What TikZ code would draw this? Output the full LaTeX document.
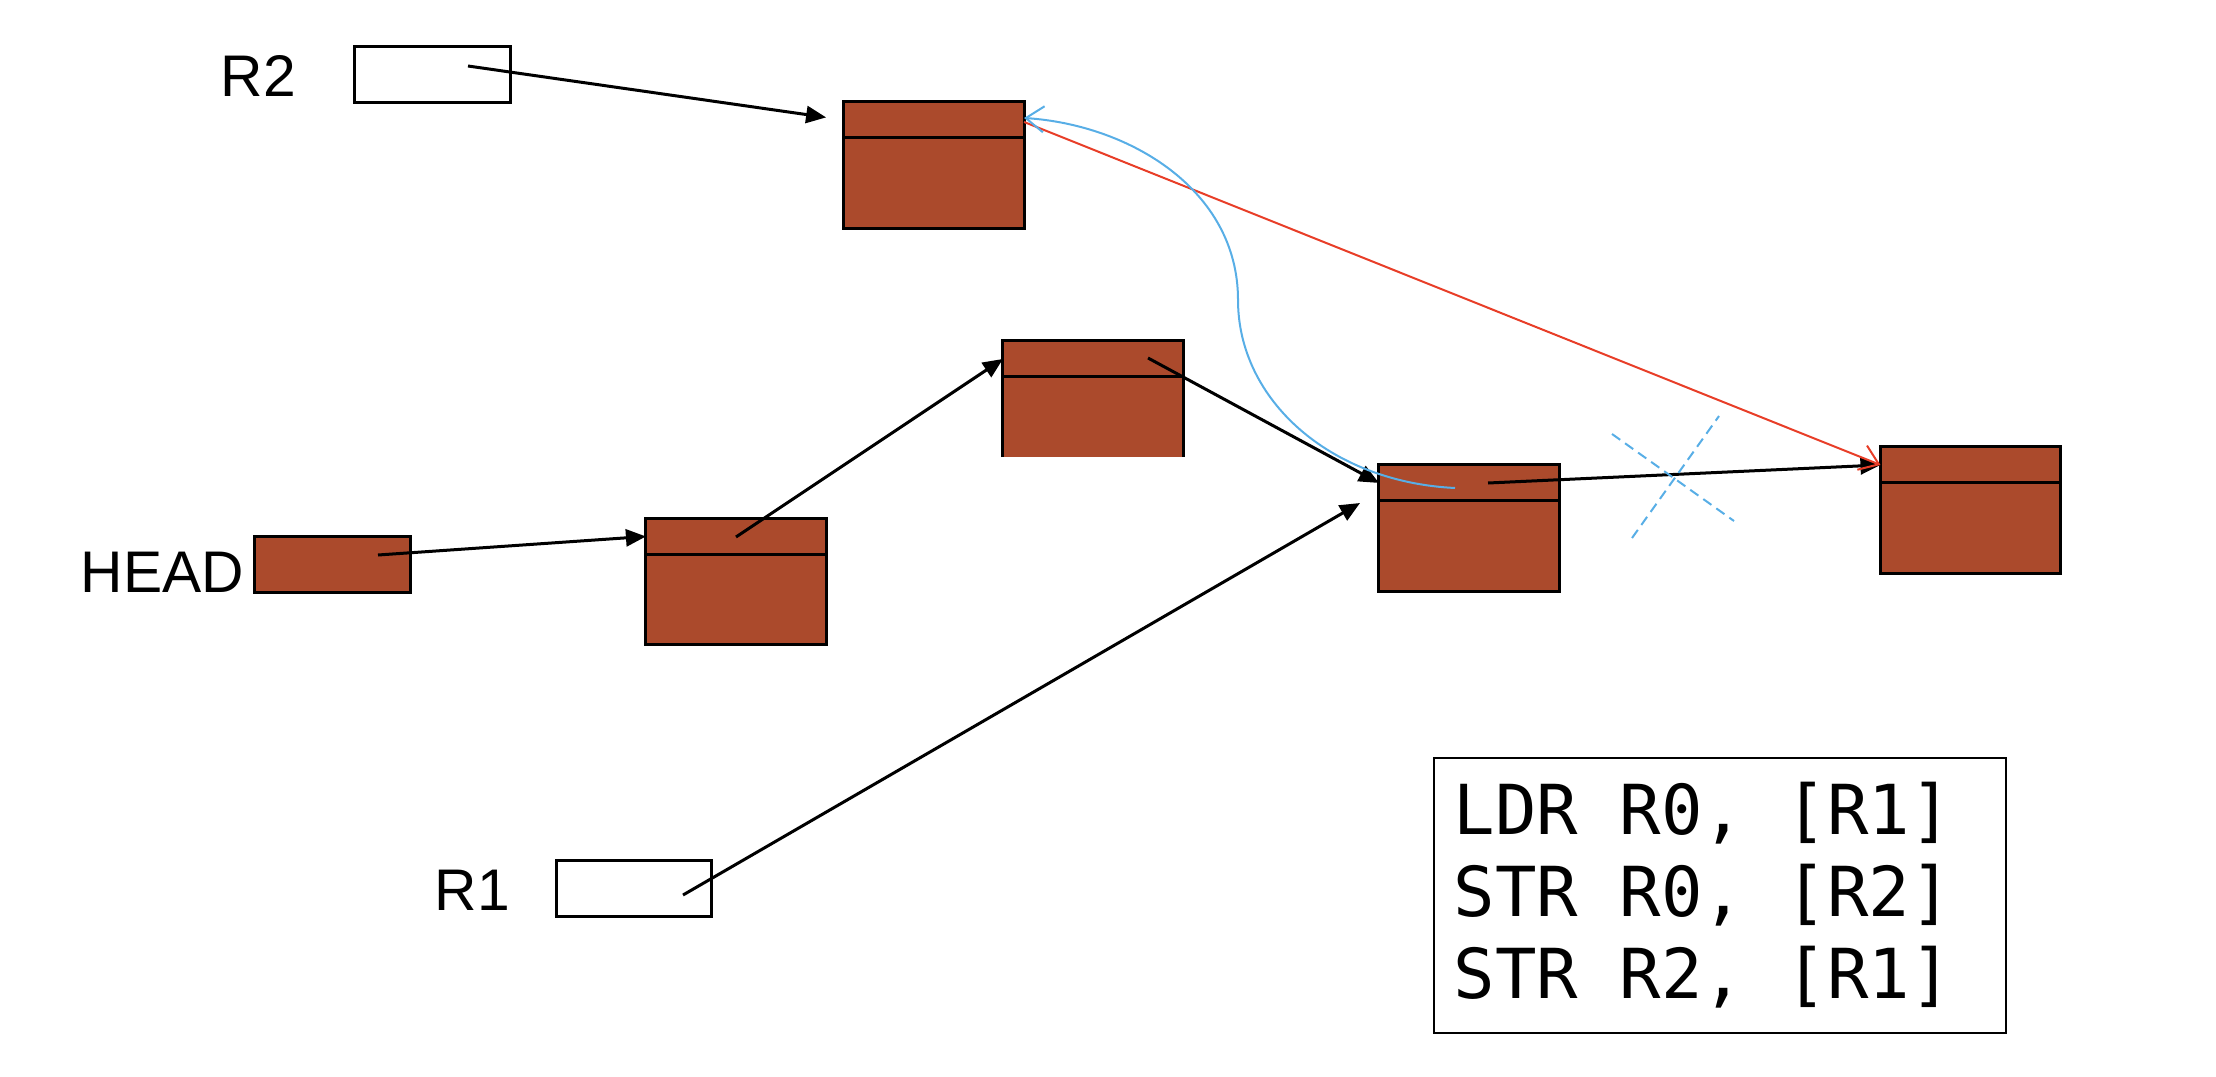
\documentclass[tikz,border=0pt]{standalone}
\usepackage{fontspec}
\usepackage{tikz}
\usetikzlibrary{arrows.meta,calc,positioning}
\newfontfamily\labelfont{Liberation Sans}
\newfontfamily\codefont{DejaVu Sans Mono}
\newcommand{\codesp}{\hspace*{0.602em}}
\definecolor{cellbrown}{RGB}{171,74,44}
\definecolor{linkred}{RGB}{232,62,40}
\definecolor{linkblue}{RGB}{88,174,230}
\tikzset{
  >={Triangle[length=0.2cm,width=0.17cm]},
  cell/.style={draw, line width=0.03cm, fill=cellbrown, outer sep=0pt, inner sep=0pt,
    minimum width=1.8cm, minimum height=1.26cm},
  reg/.style={draw, line width=0.03cm, outer sep=0pt, inner sep=0pt,
    minimum width=1.55cm, minimum height=0.56cm},
  lbl/.style={font=\labelfont\fontsize{16.7pt}{20pt}\selectfont, anchor=base west, inner sep=0pt},
  link/.style={->, line width=0.03cm},
  thinlink/.style={-{Straight Barb[length=0.18cm,width=0.26cm]}, line width=0.02cm}
}

\begin{document}
\begin{tikzpicture}[x=0.01cm,y=-0.01cm]
  \useasboundingbox (0,0) rectangle (2216,1076);

  % registers
  \node[reg] (r_2) at (432.5,74.5) {};
  \node[reg,fill=cellbrown] (head) at (332.5,564.5) {};
  \node[reg] (r_1) at (634,888.5) {};
  \node[lbl] (l_r2) at (220,97) {R2};
  \node[lbl] (l_head) at (80,592) {HEAD};
  \node[lbl] (l_r1) at (434,910) {R1};

  % list cells
  \node[cell] (c_1) at (934,165) {};
  \node[cell,draw=none,minimum height=1.16cm] (c_2) at (1093,399) {};
  \node[cell] (c_3) at (736,581.5) {};
  \node[cell] (c_4) at (1469,528) {};
  \node[cell] (c_5) at (1970.5,510) {};
  \draw[line width=0.03cm] (c_2.south west) |- (c_2.north east) -- (c_2.south east);
  \foreach \i in {1,...,5} {
    \draw[line width=0.03cm] ($(c_\i.north west)+(0,36)$) -- ($(c_\i.north east)+(0,36)$);
    \coordinate (t_\i) at ($(c_\i.north west)+(0,18)$);
  }

  \coordinate (s_r2) at (468,66);
  \coordinate (s_head) at (378,555);
  \coordinate (s_r1) at (683,895);
  \coordinate (s_3) at (736,537);
  \coordinate (s_2) at (1148,358);
  \coordinate (s_4) at (1488,483);
  \coordinate (s_b) at (1455,488);
  \coordinate (e_r1) at (1360,503);

  \path[link] (s_r2) edge[shorten >=0.18cm] (t_1)
    (s_head) edge (t_3)
    (s_3) edge (t_2)
    (s_2) edge (t_4)
    (s_r1) edge (e_r1)
    (s_4) edge (t_5);

  \draw[thinlink,linkred] ($(c_1.north east)+(0,20)$) -- (t_5);
  \draw[thinlink,linkblue] (s_b) .. controls (1330,482) and (1238,400) .. (1238,300)
    .. controls (1238,190) and (1130,125) .. ($(c_1.north east)+(0,16)$);
  \draw[linkblue, line width=0.02cm, dash pattern=on 0.1cm off 0.06cm]
    (1612,434) -- (1734,521) (1632,538) -- (1719,416);

  % code
  \node[draw, line width=0.025cm, minimum width=5.72cm, minimum height=2.75cm,
    text width=5.32cm, inner xsep=0.2cm, align=left,
    font=\codefont\fontsize{19.6pt}{23.3pt}\selectfont] (code) at (1720,895.5)
    {LDR\codesp R0,\codesp[R1]\\STR\codesp R0,\codesp[R2]\\STR\codesp R2,\codesp[R1]};
\end{tikzpicture}
\end{document}
